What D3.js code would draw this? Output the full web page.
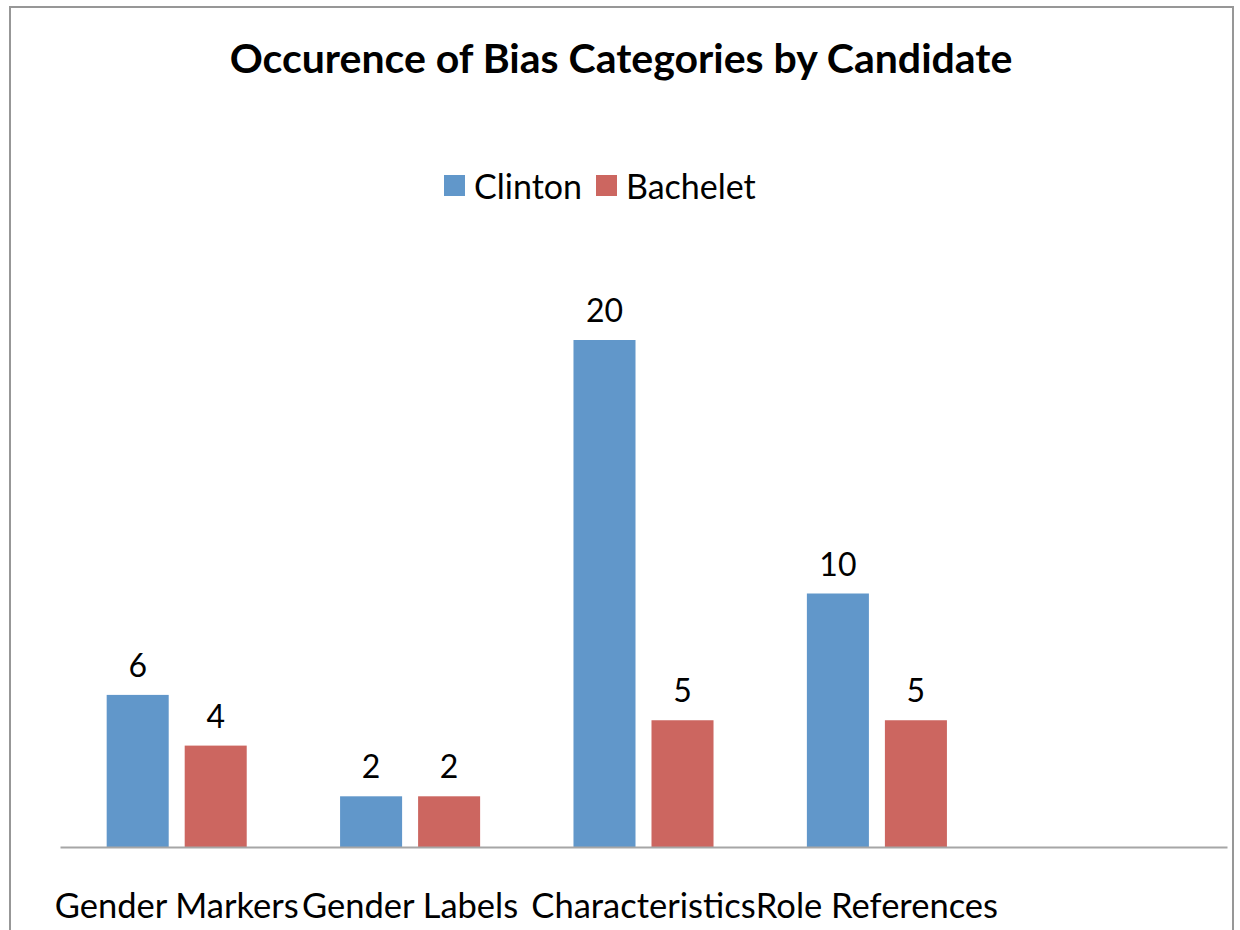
<!DOCTYPE html>
<html>
<head>
<meta charset="utf-8">
<script src="https://cdn.jsdelivr.net/npm/d3@7"></script>
<style>
  html, body { margin: 0; padding: 0; background: #fff; }
  svg { display: block; }
  text { font-family: Lato, "Open Sans", sans-serif; fill: #000; }
</style>
</head>
<body>
<svg id="chart" width="1240" height="930"></svg>
<script>
const title = "Occurence of Bias Categories by Candidate";
const categories = ["Gender Markers", "Gender Labels", "Characteristics", "Role References", ""];
const seriesNames = ["Clinton", "Bachelet"];
const clinton = [6, 2, 20, 10, null];
const bachelet = [4, 2, 5, 5, null];
const seriesColors = ["#6197CA", "#CC6660"];

const svg = d3.select("#chart");

// chart border
svg.append("rect")
  .attr("x", 10).attr("y", 7).attr("width", 1223).attr("height", 940)
  .attr("fill", "#fff").attr("stroke", "#979797").attr("stroke-width", 2);

// title
svg.append("text")
  .attr("x", 621).attr("y", 73)
  .attr("text-anchor", "middle")
  .style("font-weight", "bold").style("font-size", "41px")
  .text(title);

const baseY = 847;
const x0 = d3.scaleBand().domain(categories).range([60, 1227]).paddingInner(0.4).paddingOuter(0.2);
const x1 = d3.scaleBand().domain(seriesNames).range([0, x0.bandwidth()]).paddingInner(0.205);
const y = d3.scaleLinear().domain([0, 20]).range([baseY, 340]);
const color = d3.scaleOrdinal().domain(seriesNames).range(seriesColors);

const rows = categories.map((c, i) => ({ cat: c, values: [
  { s: "Clinton", v: clinton[i] }, { s: "Bachelet", v: bachelet[i] }
].filter(d => d.v != null) }));

const g = svg.append("g");
const groups = g.selectAll("g.cat").data(rows).join("g")
  .attr("class", "cat")
  .attr("transform", d => `translate(${x0(d.cat)},0)`);

groups.selectAll("rect").data(d => d.values).join("rect")
  .attr("x", d => x1(d.s))
  .attr("width", x1.bandwidth())
  .attr("y", d => y(d.v))
  .attr("height", d => y(0) - y(d.v))
  .attr("fill", d => color(d.s));

groups.selectAll("text.val").data(d => d.values).join("text")
  .attr("class", "val")
  .attr("x", d => x1(d.s) + x1.bandwidth() / 2)
  .attr("y", d => y(d.v) - 18)
  .attr("text-anchor", "middle")
  .style("font-size", "32px")
  .text(d => d.v);

// x axis
const axis = svg.append("g")
  .attr("transform", `translate(0,${baseY})`)
  .call(d3.axisBottom(x0).tickSize(0).tickSizeOuter(0).tickPadding(47));
axis.select(".domain").attr("stroke", "#A6A6A6").attr("stroke-width", 2);
axis.selectAll(".tick text")
  .style("font-family", "Lato, 'Open Sans', sans-serif")
  .style("font-size", "34.5px").attr("fill", "#000");

// legend
const legendItems = [
  { name: "Clinton", x: 444 },
  { name: "Bachelet", x: 596 }
];
const lg = svg.append("g");
lg.selectAll("rect").data(legendItems).join("rect")
  .attr("x", d => d.x).attr("y", 175).attr("width", 21).attr("height", 21)
  .attr("fill", d => color(d.name));
lg.selectAll("text").data(legendItems).join("text")
  .attr("x", d => d.x + 30).attr("y", 199)
  .style("font-size", "34px")
  .text(d => d.name);
</script>
</body>
</html>
